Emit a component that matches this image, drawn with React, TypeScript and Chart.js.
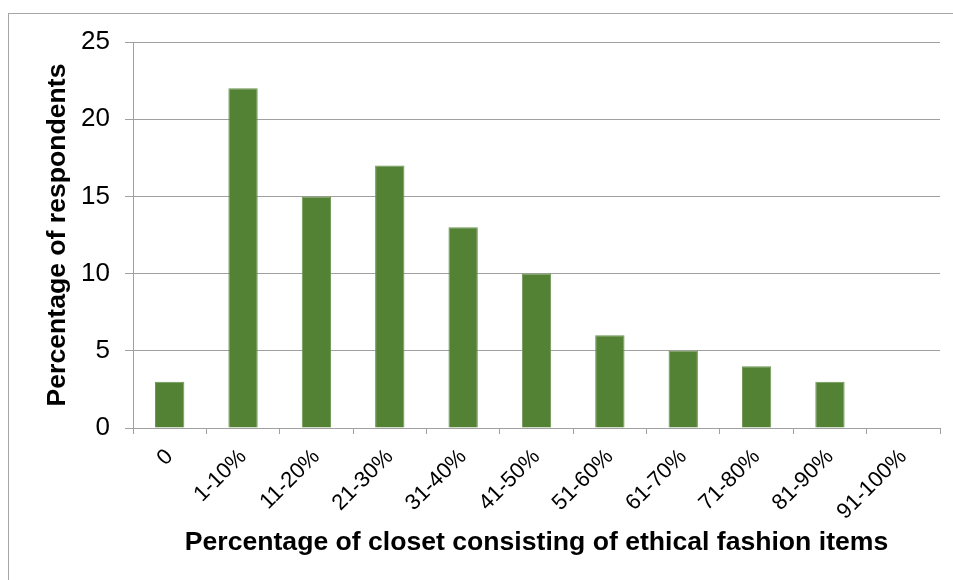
import React, { useEffect, useRef } from "react";
import { Chart, registerables } from "chart.js";

Chart.register(...registerables);

const categories = ["0", "1-10%", "11-20%", "21-30%", "31-40%", "41-50%", "51-60%", "61-70%", "71-80%", "81-90%", "91-100%"];
const values = [3, 22, 15, 17, 13, 10, 6, 5, 4, 3, 0];
const yTitle = "Percentage of respondents";
const xTitle = "Percentage of closet consisting of ethical fashion items";

export default function App() {
  const ref = useRef<HTMLCanvasElement | null>(null);
  useEffect(() => {
    if (!ref.current) return;
    const font = "'Liberation Sans', Arial, sans-serif";
    const chart = new Chart(ref.current, {
      type: "bar",
      data: {
        labels: categories,
        datasets: [
          {
            data: values,
            backgroundColor: "#548235",
            borderColor: "#6b9550",
            borderWidth: 1,
            categoryPercentage: 1,
            barPercentage: 0.4,
          },
        ],
      },
      options: {
        responsive: false,
        animation: false,
        devicePixelRatio: 1,
        layout: { padding: { top: 28, right: 13, bottom: 0, left: 0 } },
        plugins: { legend: { display: false }, tooltip: { enabled: false } },
        scales: {
          x: {
            afterFit: (s: any) => {
              s.height = 152;
            },
            grid: {
              offset: true,
              drawOnChartArea: false,
              drawTicks: true,
              tickLength: 6,
              color: "#a0a0a0",
            },
            border: { display: true, color: "#a0a0a0", width: 1 },
            ticks: {
              autoSkip: false,
              minRotation: 45,
              maxRotation: 45,
              padding: 10,
              color: "#000",
              font: { family: font, size: 22 },
            },
            title: {
              display: true,
              text: xTitle,
              color: "#000",
              font: { family: font, size: 26.6, weight: "bold" },
              padding: { top: 0, bottom: 21 },
            },
          },
          y: {
            min: 0,
            max: 25,
            afterFit: (s: any) => {
              s.width = 124;
              s.paddingTop = 10;
              s.paddingBottom = 0;
            },
            grid: { color: "#a0a0a0", tickLength: 8, drawTicks: true },
            border: { display: true, color: "#a0a0a0", width: 1 },
            ticks: {
              stepSize: 5,
              padding: 15,
              color: "#000",
              font: { family: font, size: 26 },
            },
            title: {
              display: true,
              text: yTitle,
              color: "#000",
              font: { family: font, size: 26.6, weight: "bold" },
              padding: { top: 33, bottom: 0 },
            },
          },
        },
      },
    });
    return () => chart.destroy();
  }, []);
  return (
    <div
      style={{
        position: "absolute",
        left: 8,
        top: 13,
        width: 944,
        height: 567,
        borderTop: "1px solid #a6a6a6",
        borderLeft: "1px solid #a6a6a6",
        overflow: "hidden",
        background: "#fff",
      }}
    >
      <canvas ref={ref} width={944} height={566} style={{ display: "block" }} />
    </div>
  );
}
